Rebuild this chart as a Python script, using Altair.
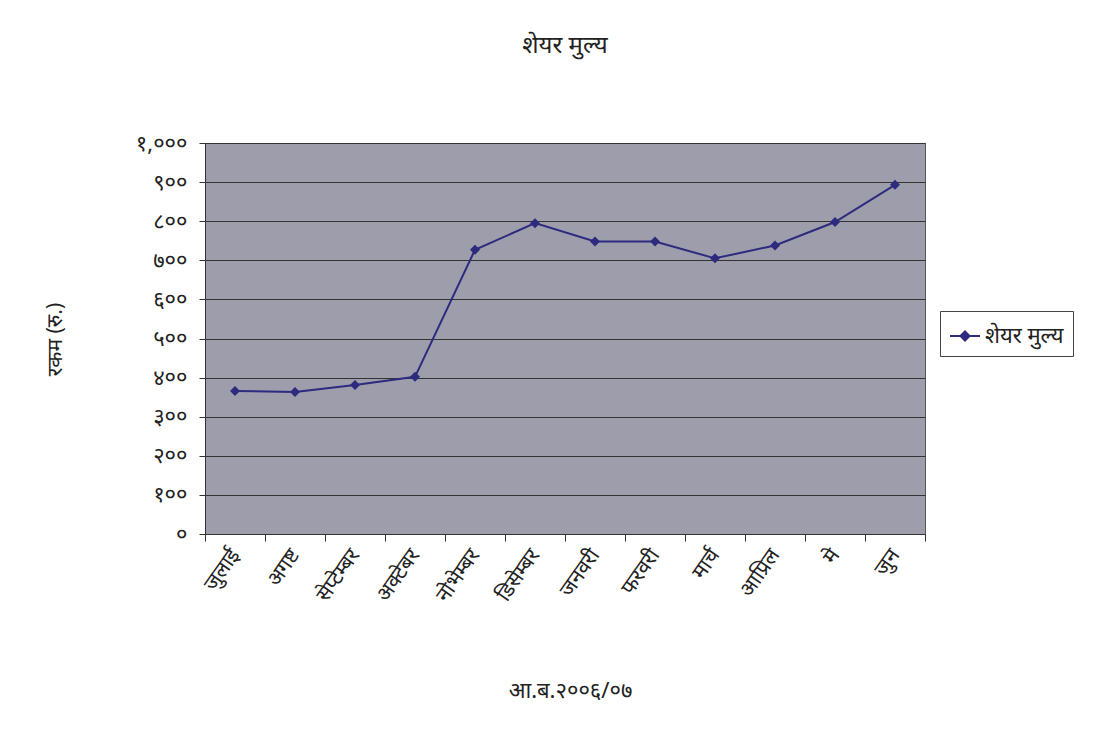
import json
import altair as alt
import pandas as pd

months = ["जुलाई", "अगष्ट", "सेप्टेम्बर", "अक्टेबर", "नोभेम्बर", "डिसेम्बर",
          "जनवरी", "फरवरी", "मार्च", "आप्रिल", "मे", "जुन"]
prices = [366, 363, 381, 402, 727, 795, 748, 748, 705, 738, 798, 893]
series_name = "शेयर मुल्य"
y_tick_values = [0, 100, 200, 300, 400, 500, 600, 700, 800, 900, 1000]
y_tick_labels = ["०", "१००", "२००", "३००", "४००", "५००", "६००", "७००", "८००", "९००", "१,०००"]

df = pd.DataFrame({"month": months, "price": prices, "series": [series_name] * len(months)})

FONT = "Noto Sans"
label_expr = json.dumps(y_tick_labels, ensure_ascii=False) + "[round(datum.value/100)]"
LINE = "#2e2a7e"

chart = alt.Chart(df).mark_line(
    color=LINE, strokeWidth=2,
    point=alt.OverlayMarkDef(shape="diamond", filled=True, size=100, color=LINE),
).encode(
    x=alt.X("month:N", sort=months, scale=alt.Scale(paddingInner=0, paddingOuter=0),
            axis=alt.Axis(title="आ.ब.२००६/०७", labelAngle=-55, labelAlign="right",
                          labelBaseline="middle", labelFontSize=21, labelPadding=10,
                          tickBand="extent", tickSize=7, tickColor="#333", domainColor="#333",
                          labelColor="#222", titleFontSize=22, titleFontWeight="normal",
                          titleColor="#222", titleX=365, titleY=146, grid=False)),
    y=alt.Y("price:Q", scale=alt.Scale(domain=[0, 1000]),
            axis=alt.Axis(title="रकम (रु.)", values=y_tick_values, labelExpr=label_expr,
                          labelFontSize=22, labelColor="#222", labelPadding=12,
                          tickSize=6, tickColor="#333", domainColor="#333",
                          gridColor="#333", gridWidth=1.1,
                          titleFontSize=21, titleFontWeight="normal", titleColor="#222",
                          titleX=-140, titleY=196)),
    color=alt.Color("series:N", scale=alt.Scale(range=[LINE]),
                    legend=alt.Legend(title=None, orient="none", legendX=735, legendY=168,
                                      labelFontSize=22, labelColor="#222",
                                      strokeColor="#444", padding=9,
                                      symbolType="M-1,0H1M-0.3,0L0,-0.3L0.3,0L0,0.3Z",
                                      symbolFillColor=LINE, symbolStrokeColor=LINE,
                                      symbolStrokeWidth=2, symbolSize=900)),
).properties(
    width=720, height=391,
    title=alt.TitleParams(series_name, fontSize=24, fontWeight="normal", color="#222",
                          anchor="middle", offset=74),
    autosize=alt.AutoSizeParams(type="none"),
    padding={"left": 197, "top": 135, "right": 170, "bottom": 185},
).configure(font=FONT).configure_view(fill="#9d9dab", stroke="#555")

chart.save("out.html", embed_options={"renderer": "svg", "actions": False})
